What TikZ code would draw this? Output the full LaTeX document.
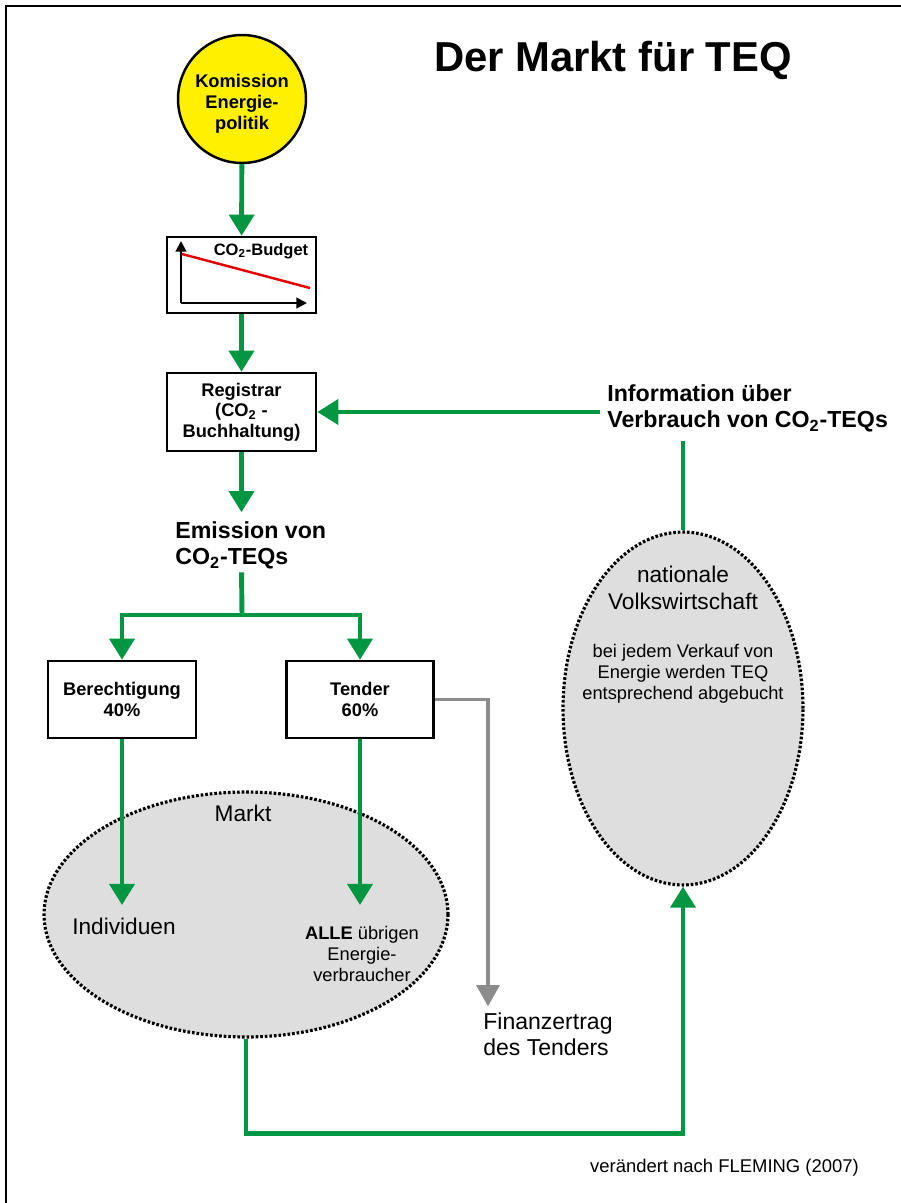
\documentclass[tikz,border=0pt]{standalone}
\usepackage{fontspec}
\setmainfont{Liberation Sans}
\usetikzlibrary{calc, arrows.meta, backgrounds, shapes.geometric}
\definecolor{gruen}{RGB}{0,150,66}
\definecolor{gelb}{RGB}{255,240,0}
\definecolor{hellgrau}{RGB}{222,222,222}
\definecolor{dunkelgrau}{RGB}{140,140,140}
\newcommand{\COz}{CO\textsubscript{2}}
\tikzstyle{pfeil}=[line width=2.8pt, gruen, -{Triangle[width=14pt,length=12pt]}]
\tikzstyle{linie}=[line width=2.8pt, gruen]
\tikzstyle{kasten}=[draw, line width=1.4pt, fill=white, align=center, inner sep=0pt, font=\fontsize{10.4}{11.6}\selectfont\bfseries]
\tikzstyle{oval}=[ellipse, draw, fill=hellgrau, line width=1.8pt, dash pattern=on 1.5pt off 1.1pt]
\tikzstyle{beschr}=[inner sep=0pt, align=center]

\begin{document}
\begin{tikzpicture}[x=0.02cm, y=-0.02cm]
		\useasboundingbox (0,0) rectangle (901,1203);
		\draw[line width=1.7pt] (6,1203) -- (6,6) -- (901,6);

		\node(titel) [beschr, font=\fontsize{23.8}{28}\selectfont\bfseries] at (613,60) {Der Markt für TEQ};

		\node(kom) [kasten, circle, fill=gelb, minimum size=2.56cm] at (242,99) {};
		\node(komtext) [beschr, font=\fontsize{10.4}{11.8}\selectfont\bfseries] at (242,104) {Komission\\Energie-\\politik};
		\node(budget) [kasten, minimum width=2.98cm, minimum height=1.52cm] at (241.5,275) {};
		\node(reg) [kasten, minimum width=2.98cm, minimum height=1.56cm] at (241.5,412) {Registrar\\(\COz\ -\\Buchhaltung)};
		\node(ber) [kasten, minimum width=2.96cm, minimum height=1.54cm] at (122,699.5) {Berechtigung\\40\%};
		\node(ten) [kasten, minimum width=2.94cm, minimum height=1.54cm] at (360,699.5) {Tender\\60\%};

		\draw[line width=1.2pt, -{Triangle[width=6pt,length=6pt]}] (181,303) -- (181,241);
		\draw[line width=1.2pt, -{Triangle[width=6pt,length=6pt]}] (181,303) -- (307,303);
		\draw[line width=1.4pt, red!90!black] (182,254) -- (310,288);
		\node(budgettext) [beschr, font=\fontsize{9.4}{11}\selectfont\bfseries] at (261,251) {\COz-Budget};

		\begin{scope}[on background layer]
		\node(markt) [oval, minimum width=8.08cm, minimum height=4.9cm] at (246,914.5) {};
		\node(vw) [oval, minimum width=4.8cm, minimum height=7.06cm] at (683,708.5) {};
		\end{scope}

		\node(info) [beschr, align=left, anchor=west, font=\fontsize{13.2}{14.7}\selectfont\bfseries] at (607,408) {Information über\\Verbrauch von \COz-TEQs};
		\node(emis) [beschr, align=left, anchor=west, font=\fontsize{13.2}{14.7}\selectfont\bfseries] at (175,545) {Emission von\\\COz-TEQs};
		\node(markttext) [beschr, font=\fontsize{12.9}{14}\selectfont] at (243,813) {Markt};
		\node(indiv) [beschr, font=\fontsize{12.9}{14}\selectfont] at (124,926) {Individuen};
		\node(alle) [beschr, font=\fontsize{10.4}{11.9}\selectfont] at (362,954) {\textbf{ALLE} übrigen\\Energie-\\verbraucher};
		\node(vwtitel) [beschr, font=\fontsize{12.9}{15.3}\selectfont] at (683,588) {nationale\\Volkswirtschaft};
		\node(vwtext) [beschr, font=\fontsize{10.4}{11.9}\selectfont] at (683,674) {bei jedem Verkauf von\\Energie werden TEQ\\entsprechend abgebucht};
		\node(fin) [beschr, align=left, anchor=west, font=\fontsize{13.1}{14.7}\selectfont] at (483,1034) {Finanzertrag\\des Tenders};
		\node(quelle) [beschr, font=\fontsize{10.5}{12}\selectfont] at (724.5,1168) {verändert nach FLEMING (2007)};

		\coordinate(split) at (242,615);

		\draw[pfeil] (kom) -- (budget);
		\draw[pfeil] (budget) -- (reg);
		\draw[pfeil, shorten >=5pt] (reg.south) -- (reg.south |- emis.north);
		\draw[linie, shorten <=2pt] (reg.south |- emis.south) -- (split);
		\draw[pfeil] (split) -| (ber.north);
		\draw[pfeil] (split) -| (ten.north);
		\draw[pfeil, shorten >=7pt] (ber.south) -- (ber.south |- indiv.north);
		\draw[pfeil, shorten >=7pt] (ten.south) -- (ten.south |- indiv.north);
		\draw[line width=1.9pt, dunkelgrau, -{Triangle[width=13pt,length=12pt]}] (ten.east) -| ($(fin.north west)+(5,-6)$);
		\draw[pfeil] (reg.east -| info.west) ++(-7,0) -- (reg.east);
		\draw[linie, shorten <=5pt] (vw.north |- info.south) -- (vw.north);
		\draw[pfeil] (markt.south) -- ++(0,95) -| (vw.south);
\end{tikzpicture}
\end{document}
